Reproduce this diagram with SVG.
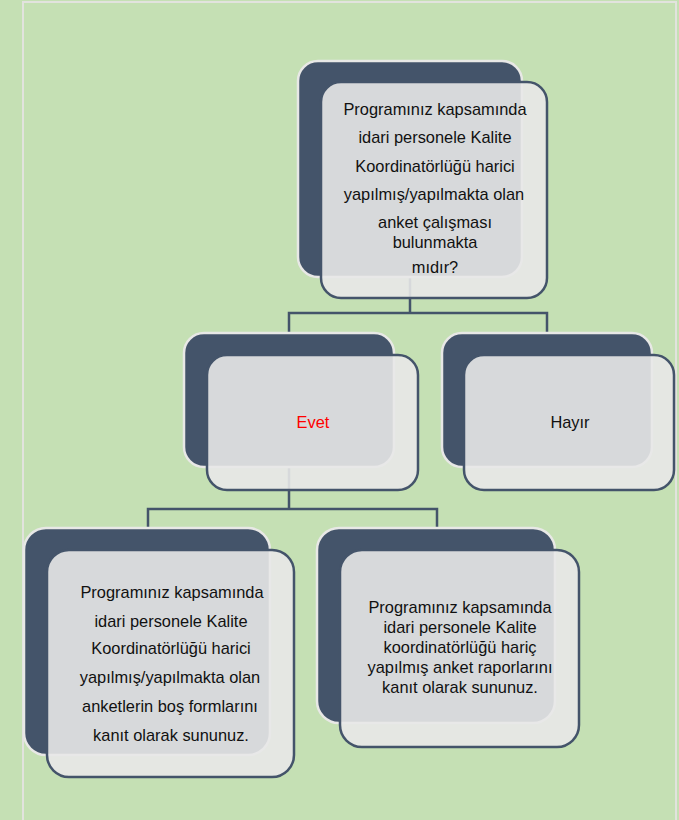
<svg xmlns="http://www.w3.org/2000/svg" width="679" height="820" viewBox="0 0 679 820">
<style>
.back{fill:#44546A;stroke:#E8E8E6;stroke-width:2.5}
.front{fill:#E8E8E8;fill-opacity:0.9;stroke:#44546A;stroke-width:2.5}
.t{font-family:"Liberation Sans",Arial,sans-serif;font-size:16.4px;fill:#111;text-anchor:middle}
.conn{fill:none;stroke:#44546A;stroke-width:2.5}
</style>
<rect x="0" y="0" width="679" height="820" fill="#C5E0B4"/>
<rect x="23" y="2" width="653" height="830" fill="none" stroke="#E2E3DE" stroke-width="2"/>
<g id="connectors">
<path class="conn" d="M410 277 V313 M289 333 V313 H547 V333"/>
<path class="conn" d="M289 467 V509 M148 530 V509 H437 V530"/>
</g>
<g id="n1">
<rect class="back" x="298" y="61" width="224" height="216" rx="20"/>
<rect class="front" x="321" y="82" width="226" height="216" rx="20"/>
<text class="t"><tspan x="435" y="115">Programınız kapsamında</tspan><tspan x="435" y="143">idari personele  Kalite</tspan><tspan x="435" y="172">Koordinatörlüğü harici</tspan><tspan x="434" y="200">yapılmış/yapılmakta olan</tspan><tspan x="435" y="228">anket çalışması</tspan><tspan x="435" y="248">bulunmakta</tspan><tspan x="435" y="273">mıdır?</tspan></text>
</g>
<g id="n2">
<rect class="back" x="184" y="333" width="210" height="134" rx="20"/>
<rect class="front" x="207" y="355" width="211" height="135" rx="20"/>
<text class="t" x="313" y="428" style="fill:#FF0000">Evet</text>
</g>
<g id="n3">
<rect class="back" x="442" y="333" width="210" height="134" rx="20"/>
<rect class="front" x="464" y="355" width="210" height="135" rx="20"/>
<text class="t" x="570" y="428">Hayır</text>
</g>
<g id="n4">
<rect class="back" x="24" y="528" width="246" height="227" rx="22"/>
<rect class="front" x="47" y="550" width="247" height="227" rx="22"/>
<text class="t"><tspan x="172" y="598">Programınız kapsamında</tspan><tspan x="171" y="627">idari personele  Kalite</tspan><tspan x="171" y="654">Koordinatörlüğü harici</tspan><tspan x="170" y="683">yapılmış/yapılmakta olan</tspan><tspan x="170" y="712">anketlerin boş formlarını</tspan><tspan x="171" y="741">kanıt olarak sununuz.</tspan></text>
</g>
<g id="n5">
<rect class="back" x="317" y="528" width="238" height="195" rx="22"/>
<rect class="front" x="340" y="550" width="239" height="197" rx="22"/>
<text class="t"><tspan x="460" y="613">Programınız kapsamında</tspan><tspan x="460" y="633">idari personele  Kalite</tspan><tspan x="460" y="653">koordinatörlüğü  hariç</tspan><tspan x="460" y="673">yapılmış anket raporlarını</tspan><tspan x="460" y="693">kanıt olarak sununuz.</tspan></text>
</g>
</svg>
